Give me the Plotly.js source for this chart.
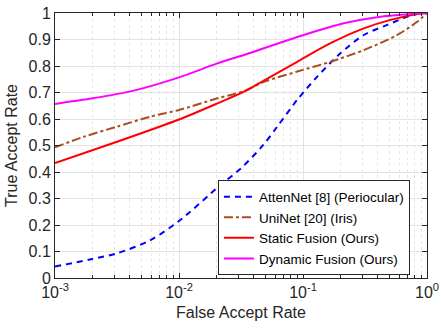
<!DOCTYPE html>
<html><head><meta charset="utf-8">
<script src="https://cdn.plot.ly/plotly-3.0.1.min.js"></script>
<style>body{margin:0;background:#fff}#c{width:441px;height:328px}</style>
</head><body><div id="c"></div>
<script>
// False accept rate (log10 exponents) and true accept rates
const attenFAR = [-3, -2.71, -2.5, -2.23, -2.0, -1.665, -1.5, -1.32, -1.208, -1.047, -0.885, -0.698, -0.51, -0.32, -0.16, -0.053, 0];
const attenTAR = [0.043, 0.071, 0.093, 0.143, 0.215, 0.351, 0.414, 0.502, 0.571, 0.672, 0.76, 0.848, 0.917, 0.955, 0.986, 0.999, 1.0];
const uniFAR = [-3, -2.768, -2.5, -2.23, -2.0, -1.69, -1.48, -1.316, -1.047, -0.778, -0.51, -0.24, -0.079, 0];
const uniTAR = [0.493, 0.533, 0.571, 0.609, 0.634, 0.678, 0.705, 0.74, 0.779, 0.816, 0.86, 0.917, 0.967, 1.0];
const staticFAR = [-3, -2.5, -2.0, -1.69, -1.45, -1.316, -1.047, -0.778, -0.51, -0.294, -0.079, 0];
const staticTAR = [0.434, 0.514, 0.598, 0.659, 0.709, 0.745, 0.816, 0.886, 0.942, 0.974, 0.996, 1.0];
const dynFAR = [-3, -2.71, -2.365, -2.0, -1.69, -1.42, -1.316, -0.994, -0.671, -0.375, 0];
const dynTAR = [0.657, 0.677, 0.707, 0.757, 0.81, 0.85, 0.867, 0.917, 0.961, 0.986, 1.0];
const seriesNames = ["AttenNet [8] (Periocular)", "UniNet [20] (Iris)", "Static Fusion (Ours)", "Dynamic Fusion (Ours)"];
const xTickVals = [0.001, 0.01, 0.1, 1];
const xTickText = ["10<sup>-3</sup>", "10<sup>-2</sup>", "10<sup>-1</sup>", "10<sup>0</sup>"];
const yTickVals = [0, 0.1, 0.2, 0.3, 0.4, 0.5, 0.6, 0.7, 0.8, 0.9, 1];
const yTickText = ["0", "0.1", "0.2", "0.3", "0.4", "0.5", "0.6", "0.7", "0.8", "0.9", "1"];

const pw = a => a.map(v => Math.pow(10, v));
const traces = [
  {x: pw(attenFAR), y: attenTAR, name: seriesNames[0], line: {color: '#0000ff', width: 2, dash: '6px,5px', shape: 'spline', smoothing: 0.8}},
  {x: pw(uniFAR), y: uniTAR, name: seriesNames[1], line: {color: '#a5501f', width: 2, dash: 'dashdot', shape: 'spline', smoothing: 0.8}},
  {x: pw(staticFAR), y: staticTAR, name: seriesNames[2], line: {color: '#ff0000', width: 2, shape: 'spline', smoothing: 0.8}},
  {x: pw(dynFAR), y: dynTAR, name: seriesNames[3], line: {color: '#ff00ff', width: 2, shape: 'spline', smoothing: 0.8}}
].map(t => Object.assign({type: 'scatter', mode: 'lines'}, t));

const axFont = {family: 'Liberation Sans, Arial, sans-serif', size: 16, color: '#262626'};
const layout = {
  width: 441, height: 328,
  margin: {l: 54.5, r: 14, t: 13, b: 50},
  paper_bgcolor: '#fff', plot_bgcolor: '#fff',
  font: axFont,
  showlegend: true,
  legend: {x: 0.438, y: 0.368, xanchor: 'left', yanchor: 'top', bgcolor: '#fff', bordercolor: '#262626', borderwidth: 1,
           font: {family: 'Liberation Sans, Arial, sans-serif', size: 13.5, color: '#000'}, tracegroupgap: 0},
  xaxis: {
    type: 'log', range: [-3, 0], tickvals: xTickVals, ticktext: xTickText,
    title: {text: 'False Accept Rate', font: axFont, standoff: 6},
    showline: true, linecolor: '#262626', linewidth: 1, mirror: 'ticks', ticks: 'inside', ticklen: 5, tickcolor: '#262626',
    showgrid: true, gridcolor: '#e3e3e3', gridwidth: 1, zeroline: false,
    minor: {dtick: 'D1', ticks: 'inside', ticklen: 3, tickcolor: '#262626', showgrid: true, gridcolor: '#e6e6e6', griddash: 'dot'}
  },
  yaxis: {
    range: [0, 1], tickvals: yTickVals, ticktext: yTickText,
    title: {text: 'True Accept Rate', font: axFont, standoff: 6},
    showline: true, linecolor: '#262626', linewidth: 1, mirror: 'ticks', ticks: 'inside', ticklen: 5, tickcolor: '#262626',
    showgrid: true, gridcolor: '#e3e3e3', gridwidth: 1, zeroline: false
  }
};
Plotly.newPlot('c', traces, layout, {displayModeBar: false, staticPlot: true});
</script></body></html>
